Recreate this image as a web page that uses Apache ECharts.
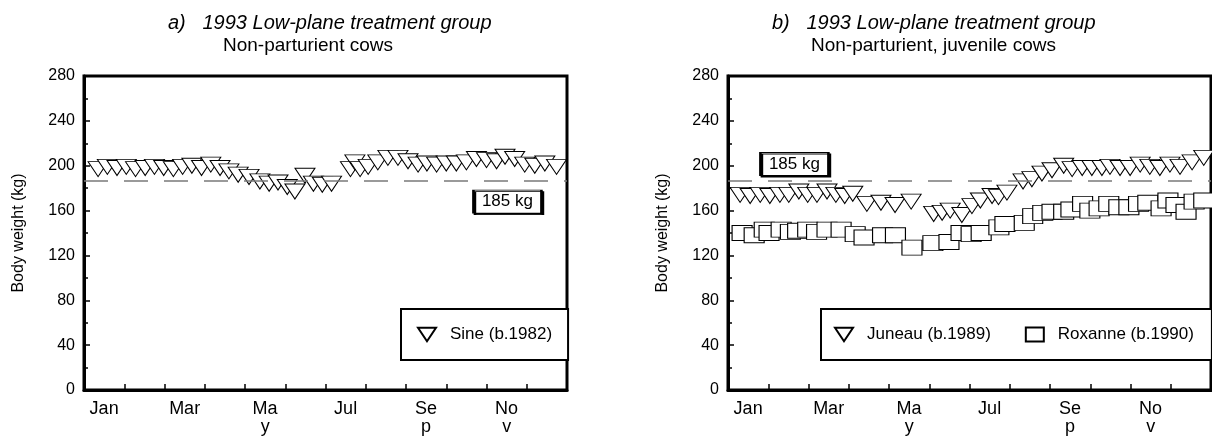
<!DOCTYPE html>
<html>
<head>
<meta charset="utf-8">
<title>1993 Low-plane treatment group</title>
<script src="https://cdn.jsdelivr.net/npm/echarts@6/dist/echarts.min.js"></script>
<style>
  html, body { margin: 0; padding: 0; background: #fff; }
  #main { width: 1212px; height: 443px; }
</style>
</head>
<body>
<div id="main"></div>
<script>
// month labels (wrapped like the original)
const monthLabels = ['Jan', '', 'Mar', '', 'Ma\ny', '', 'Jul', '', 'Se\np', '', 'No\nv', '']
const yTicks = [0, 40, 80, 120, 160, 200, 240, 280]
const refWeight = 187

// a) Sine (b.1982)
const sineX = [0.35, 0.58, 0.82, 1.05, 1.28, 1.52, 1.75, 1.98, 2.22, 2.45, 2.68, 2.92, 3.15, 3.38, 3.6, 3.83, 4.1,
  4.37, 4.6, 4.82, 5.05, 5.24, 5.49, 5.7, 5.92, 6.15, 6.62, 6.73, 6.86, 7.06, 7.3, 7.55, 7.8, 8.05,
  8.3, 8.52, 8.76, 9.0, 9.25, 9.5, 9.75, 10.0, 10.25, 10.46, 10.7, 10.95, 11.2, 11.45, 11.74]
const sineY = [197, 199, 198, 199, 197, 198, 199, 198, 197, 199, 200, 198, 201, 198, 195, 192, 190,
  186, 184, 185, 181, 177, 191, 184, 183, 184, 197, 203, 197, 199, 203, 207, 207, 204,
  201, 202, 201, 202, 202, 203, 206, 205, 204, 208, 206, 201, 200, 202, 199]

// b) Juneau (b.1989)
const juneauX = [0.3, 0.55, 0.8, 1.04, 1.29, 1.51, 1.76, 1.98, 2.21, 2.46, 2.68, 2.9, 3.1, 3.45, 3.8, 4.15, 4.55,
  5.11, 5.32, 5.52, 5.81, 6.06, 6.27, 6.56, 6.72, 6.93, 7.33, 7.55, 7.8, 8.05,
  8.34, 8.55, 8.8, 9.04, 9.29, 9.49, 9.74, 9.99, 10.24, 10.48, 10.73, 10.98, 11.23, 11.53, 11.82]
const juneauY = [174, 173, 174, 173, 174, 174, 177, 174, 174, 177, 174, 173, 175, 166, 167, 165, 168,
  157, 158, 160, 156, 164, 169, 173, 172, 176, 186, 188, 193, 196,
  200, 197, 198, 198, 198, 199, 198, 198, 201, 199, 198, 201, 199, 203, 207]

// b) Roxanne (b.1990)
const roxanneX = [0.35, 0.65, 0.9, 1.02, 1.32, 1.55, 1.73, 1.98, 2.2, 2.46, 2.81, 3.16, 3.38, 3.84, 4.16, 4.57,
  5.09, 5.49, 5.79, 6.04, 6.29, 6.73, 6.88, 7.36, 7.57, 7.82, 8.05, 8.34, 8.52, 8.81, 8.99,
  9.22, 9.46, 9.71, 9.96, 10.2, 10.43, 10.76, 10.93, 11.13, 11.38, 11.58, 11.82]
const roxanneY = [140, 138, 143, 140, 143, 141, 142, 143, 141, 143, 143, 139, 136, 138, 138, 127,
  131, 132, 140, 139, 140, 145, 148, 149, 155, 158, 159, 159, 161, 166, 160,
  162, 166, 163, 163, 166, 167, 162, 169, 165, 159, 168, 169]

const FONT = 'Liberation Sans, Arial, sans-serif'
const TRI = 'path://M0,0L20,0L10,15Z'

function zip(xs, ys) {
  let out = []
  for (let i = 0; i < xs.length; i++) {
    out.push([xs[i], ys[i]])
  }
  return out
}

// one pair of x axes per panel: value axis for data + category axis for labels
function xAxes(gridIndex) {
  return [{
    type: 'value', gridIndex: gridIndex, min: 0, max: 12, interval: 1,
    axisLine: { lineStyle: { color: '#000', width: 3 } },
    axisTick: { inside: true, length: 6, lineStyle: { color: '#000', width: 1.5 } },
    axisLabel: { show: false },
    splitLine: { show: false }
  }, {
    type: 'category', gridIndex: gridIndex, data: monthLabels, boundaryGap: true,
    position: 'bottom',
    axisLine: { show: false },
    axisTick: { show: false },
    axisLabel: { interval: 0, color: '#000', fontSize: 18, fontFamily: FONT, margin: 10, lineHeight: 18 }
  }]
}

function yAxis(gridIndex) {
  return {
    type: 'value', gridIndex: gridIndex, min: yTicks[0], max: yTicks[yTicks.length - 1], interval: 40,
    name: 'Body weight (kg)', nameLocation: 'middle', nameGap: 57,
    nameTextStyle: { color: '#000', fontSize: 16, fontFamily: FONT },
    axisLine: { show: true, lineStyle: { color: '#000', width: 3 } },
    axisTick: { show: true, inside: true, length: 6, lineStyle: { color: '#000', width: 1.5 } },
    minorTick: { show: true, splitNumber: 2, length: 4, lineStyle: { color: '#000', width: 1.5 } },
    axisLabel: { color: '#000', fontSize: 16, fontFamily: FONT, margin: 9 },
    splitLine: { show: false }
  }
}

// dashed 185 kg line + label box, drawn under the markers
function refSeries(xIdx, yIdx, boxCoord) {
  return {
    type: 'line', xAxisIndex: xIdx, yAxisIndex: yIdx, data: [], z: 1, silent: true,
    markLine: {
      silent: true, symbol: ['none', 'none'], animation: false,
      label: { show: false },
      lineStyle: { type: [24, 16], color: '#7a7a7a', width: 1.5 },
      data: [{ yAxis: refWeight }]
    },
    markPoint: {
      silent: true, animation: false, symbol: 'rect', symbolSize: [68, 23],
      itemStyle: { color: '#fff', borderColor: '#000', borderWidth: 1.5, shadowColor: '#000', shadowOffsetX: 1.5, shadowOffsetY: 1.5, shadowBlur: 0 },
      label: { show: true, position: 'inside', formatter: '185 kg', color: '#000', fontSize: 17, fontFamily: FONT },
      data: [{ coord: boxCoord }]
    }
  }
}

function markerSeries(name, xIdx, yIdx, symbol, size, xs, ys) {
  return {
    name: name, type: 'scatter', xAxisIndex: xIdx, yAxisIndex: yIdx, z: 3,
    symbol: symbol, symbolSize: size, clip: true,
    itemStyle: { color: '#fff', borderColor: '#000', borderWidth: 1, opacity: 1 },
    emphasis: { disabled: true },
    data: zip(xs, ys)
  }
}

const chart = echarts.init(document.getElementById('main'), null, { width: 1212, height: 443 })

const legendBase = {
  orient: 'horizontal', top: 309, width: 460, itemWidth: 18, itemHeight: 14, itemGap: 34,
  textStyle: { color: '#000', fontSize: 17, fontFamily: FONT, padding: [0, 0, 0, 9] },
  backgroundColor: '#fff', borderColor: '#000', borderWidth: 2,
  selectedMode: false
}

function titleText(text, x, y, font) {
  return { type: 'text', x: x, y: y, style: { text: text, fill: '#000', font: font, textAlign: 'left', textVerticalAlign: 'middle' } }
}

chart.setOption({
  animation: false,
  backgroundColor: '#fff',
  grid: [
    { left: 84, top: 76, width: 483, height: 314, show: true, borderColor: '#000', borderWidth: 3, backgroundColor: 'transparent' },
    { left: 728, top: 76, width: 483, height: 314, show: true, borderColor: '#000', borderWidth: 3, backgroundColor: 'transparent' }
  ],
  xAxis: xAxes(0).concat(xAxes(1)),
  yAxis: [yAxis(0), yAxis(1)],
  legend: [
    Object.assign({}, legendBase, { left: 401, padding: [17, 16, 17, 16], data: ['Sine (b.1982)'] }),
    Object.assign({}, legendBase, { left: 821, padding: [17, 18, 17, 13], data: ['Juneau (b.1989)', 'Roxanne (b.1990)'] })
  ],
  graphic: [
    titleText('a)   1993 Low-plane treatment group', 168, 23, 'italic 20px ' + FONT),
    titleText('Non-parturient cows', 223, 46, '19px ' + FONT),
    titleText('b)   1993 Low-plane treatment group', 772, 23, 'italic 20px ' + FONT),
    titleText('Non-parturient, juvenile cows', 811, 46, '19px ' + FONT)
  ],
  series: [
    refSeries(0, 0, [10.52, 168]),
    markerSeries('Sine (b.1982)', 0, 0, TRI, [20, 15], sineX, sineY),
    refSeries(2, 1, [1.65, 201.5]),
    markerSeries('Juneau (b.1989)', 2, 1, TRI, [20, 15], juneauX, juneauY),
    markerSeries('Roxanne (b.1990)', 2, 1, 'rect', [20, 15], roxanneX, roxanneY)
  ]
})
</script>
</body>
</html>
